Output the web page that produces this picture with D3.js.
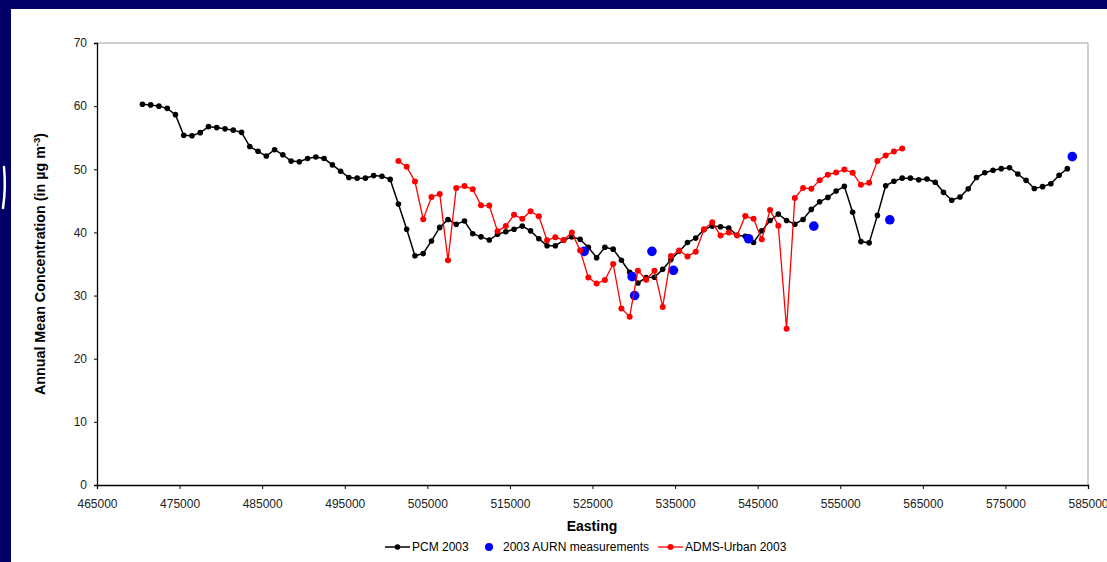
<!DOCTYPE html>
<meta charset="utf-8">
<style>
  body { margin: 0; background: #000066; }
  svg { display: block; font-family: "Liberation Sans", Arial, sans-serif; }
</style>
<svg width="1107" height="562"></svg>
<script src="https://d3js.org/d3.v7.min.js"></script>
<script>

// PCM 2003 modelled values, one every 1000 m of easting starting at 470500
var pcmStart = 470500, pcmStep = 1000;
var pcmValues = [
  60.3, 60.2, 60.0, 59.65, 58.65, 55.4, 55.3, 55.8, 56.75, 56.6,
  56.4, 56.2, 55.85, 53.6, 52.85, 52.1, 53.1, 52.3, 51.3, 51.2,
  51.7, 51.95, 51.7, 50.7, 49.7, 48.7, 48.6, 48.6, 49.0, 48.9,
  48.4, 44.5, 40.5, 36.3, 36.65, 38.65, 40.8, 42.05, 41.3, 41.8,
  39.8, 39.3, 38.8, 39.7, 40.1, 40.5, 41.0, 40.25, 39.0, 37.9,
  37.9, 38.75, 39.3, 38.9, 37.65, 36.0, 37.65, 37.35, 35.6, 33.7,
  32.0, 32.85, 32.9, 34.15, 35.7, 37.0, 38.4, 39.1, 40.45, 41.0,
  40.9, 40.7, 39.55, 39.4, 38.4, 40.25, 41.9, 42.9, 41.9, 41.3,
  42.05, 43.65, 44.85, 45.55, 46.55, 47.3, 43.2, 38.55, 38.35, 42.7,
  47.4, 48.1, 48.6, 48.6, 48.35, 48.45, 47.95, 46.35, 45.1, 45.6,
  46.9, 48.7, 49.45, 49.85, 50.1, 50.25, 49.25, 48.25, 46.95, 47.25,
  47.7, 49.05, 50.1
];

// ADMS-Urban 2003, same 1000 m grid starting at 501500
var admsStart = 501500, admsStep = 1000;
var admsValues = [
  51.3, 50.4, 48.05, 42.1, 45.6, 46.1, 35.6, 47.05, 47.35, 46.85,
  44.3, 44.25, 40.2, 41.0, 42.8, 42.15, 43.35, 42.55, 38.75, 39.25,
  38.8, 40.0, 37.15, 32.85, 31.9, 32.45, 35.0, 27.95, 26.65, 33.95,
  32.5, 33.95, 28.2, 36.25, 37.15, 36.2, 36.95, 40.5, 41.6, 39.5,
  40.0, 39.5, 42.6, 42.15, 38.9, 43.55, 41.05, 24.75, 45.45, 47.05,
  46.9, 48.25, 49.15, 49.5, 49.95, 49.45, 47.55, 47.85, 51.3, 52.2,
  52.8, 53.3
];

// AURN measurement sites
var aurnEasting = [524000, 529800, 530100, 532200, 534800, 543900, 551800, 561000, 583100];
var aurnValues  = [37, 33, 30, 37, 34, 39, 41, 42, 52];

var xTicks = [465000, 475000, 485000, 495000, 505000, 515000, 525000, 535000, 545000, 555000, 565000, 575000, 585000];
var yTicks = [0, 10, 20, 30, 40, 50, 60, 70];

var svg = d3.select("svg");

// white slide area
svg.append("rect").attr("x", 11).attr("y", 9).attr("width", 1096).attr("height", 553).attr("fill", "#fff");
// stray white stroke on the left border
svg.append("path").attr("d", "M4,167 Q6,188 3,208").attr("fill", "none")
  .attr("stroke", "#fff").attr("stroke-width", 2.5).attr("stroke-linecap", "round");

var x = d3.scaleLinear().domain([465000, 585000]).range([97, 1088]);
var y = d3.scaleLinear().domain([0, 70]).range([485, 43]);

var pcm = pcmValues.map(function(v, i){ return [pcmStart + i * pcmStep, v]; });
var adms = admsValues.map(function(v, i){ return [admsStart + i * admsStep, v]; });
var aurn = aurnValues.map(function(v, i){ return [aurnEasting[i], v]; });

// plot frame: grey top and right
svg.append("path")
  .attr("d", "M" + x.range()[0] + "," + y(70) + "H" + x.range()[1] + "V" + y(0))
  .attr("fill", "none").attr("stroke", "#a0a0a0").attr("stroke-width", 1);

var yAxis = svg.append("g").attr("transform", "translate(" + x.range()[0] + ",0)")
  .call(d3.axisLeft(y).tickValues(yTicks).tickSize(3).tickPadding(7));
var xAxis = svg.append("g").attr("transform", "translate(0," + y(0) + ")")
  .call(d3.axisBottom(x).tickValues(xTicks).tickFormat(d3.format("d")).tickSize(4).tickPadding(10));

[yAxis, xAxis].forEach(function(g){
  g.select(".domain").attr("stroke", "#000").attr("stroke-width", 1.3);
  g.selectAll(".tick line").attr("stroke", "#000");
  g.selectAll("text").attr("font-size", 12).attr("fill", "#222")
    .attr("font-family", "'Liberation Sans', Arial, sans-serif");
});

var line = d3.line().x(function(d){ return x(d[0]); }).y(function(d){ return y(d[1]); });

// PCM
svg.append("path").datum(pcm).attr("d", line)
  .attr("fill", "none").attr("stroke", "#000").attr("stroke-width", 1.5);
svg.append("g").selectAll("circle").data(pcm).join("circle")
  .attr("cx", function(d){ return x(d[0]); }).attr("cy", function(d){ return y(d[1]); })
  .attr("r", 2.8).attr("fill", "#000");

// AURN
svg.append("g").selectAll("circle").data(aurn).join("circle")
  .attr("cx", function(d){ return x(d[0]); }).attr("cy", function(d){ return y(d[1]); })
  .attr("r", 4.8).attr("fill", "#0000ff");

// ADMS
svg.append("path").datum(adms).attr("d", line)
  .attr("fill", "none").attr("stroke", "#ff0000").attr("stroke-width", 1.3);
svg.append("g").selectAll("circle").data(adms).join("circle")
  .attr("cx", function(d){ return x(d[0]); }).attr("cy", function(d){ return y(d[1]); })
  .attr("r", 3).attr("fill", "#ff0000");

// axis titles
svg.append("text").attr("x", 592).attr("y", 531).attr("text-anchor", "middle")
  .attr("font-size", 14).attr("font-weight", "bold").attr("fill", "#000").text("Easting");

var yt = svg.append("text").attr("transform", "translate(45,264) rotate(-90)")
  .attr("text-anchor", "middle").attr("font-size", 14.3).attr("font-weight", "bold").attr("fill", "#000");
yt.append("tspan").text("Annual Mean Concentration (in \u00b5g m");
yt.append("tspan").attr("dy", -5).attr("font-size", 9.5).text("-3");
yt.append("tspan").attr("dy", 5).text(")");

// legend
var lg = svg.append("g").attr("font-size", 12).attr("fill", "#000");
var ly = 547;
lg.append("line").attr("x1", 385).attr("x2", 410).attr("y1", ly).attr("y2", ly).attr("stroke", "#000").attr("stroke-width", 1.5);
lg.append("circle").attr("cx", 397.5).attr("cy", ly).attr("r", 2.8).attr("fill", "#000");
lg.append("text").attr("x", 412).attr("y", ly + 4.3).text("PCM 2003");
lg.append("circle").attr("cx", 489).attr("cy", ly).attr("r", 4).attr("fill", "#0000ff");
lg.append("text").attr("x", 503).attr("y", ly + 4.3).text("2003 AURN measurements");
lg.append("line").attr("x1", 658).attr("x2", 683).attr("y1", ly).attr("y2", ly).attr("stroke", "#ff0000").attr("stroke-width", 1.3);
lg.append("circle").attr("cx", 670.5).attr("cy", ly).attr("r", 3).attr("fill", "#ff0000");
lg.append("text").attr("x", 685).attr("y", ly + 4.3).text("ADMS-Urban 2003");

</script>
